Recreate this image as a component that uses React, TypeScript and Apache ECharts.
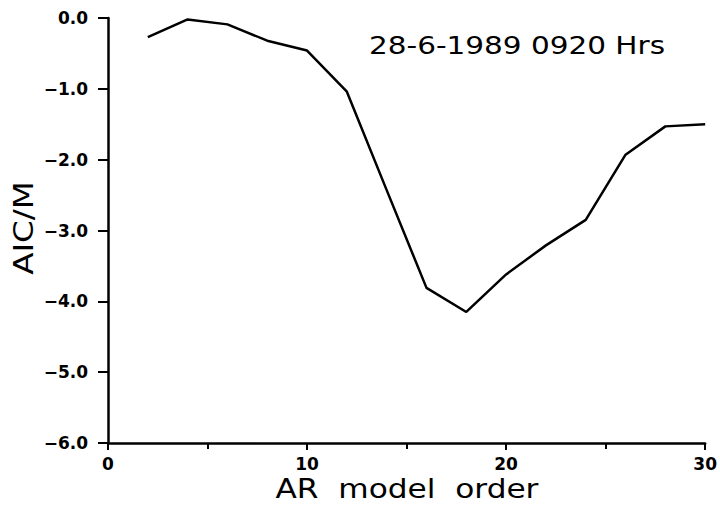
import React, { useEffect, useRef } from "react";
import * as echarts from "echarts";

const orders = [2, 4, 6, 8, 10, 12, 14, 16, 18, 20, 22, 24, 26, 28, 30];
const aicValues = [-0.27, -0.02, -0.09, -0.32, -0.46, -1.04, -2.43, -3.81, -4.15, -3.62, -3.21, -2.85, -1.93, -1.53, -1.5];
const titleText = "28-6-1989 0920 Hrs";
const xAxisTitle = "AR  model  order";
const yAxisTitle = "AIC/M";

const fmtY = (v: number) => (v < 0 ? "\u2212" : "") + Math.abs(v).toFixed(1);

export default function App() {
  const ref = useRef<HTMLDivElement>(null);
  useEffect(() => {
    if (!ref.current) return;
    const chart = echarts.init(ref.current, null, { renderer: "svg" });
    const black = "#000";
    chart.setOption({
      animation: false,
      backgroundColor: "#fff",
      grid: { left: 108, right: 13, top: 18, bottom: 65, containLabel: false },
      xAxis: {
        type: "value",
        min: 0,
        max: 30,
        interval: 10,
        axisLine: { show: true, onZero: false, lineStyle: { color: black, width: 2.5 } },
        axisTick: { show: true, inside: false, length: 7, lineStyle: { color: black, width: 2 } },
        minorTick: { show: true, splitNumber: 2, length: 6, lineStyle: { color: black, width: 2 } },
        splitLine: { show: false },
        axisLabel: {
          color: black,
          fontFamily: "DejaVu Sans",
          fontWeight: "bold",
          fontSize: 17,
          margin: 12,
        },
      },
      yAxis: {
        type: "value",
        min: -6,
        max: 0,
        interval: 1,
        axisLine: { show: true, onZero: false, lineStyle: { color: black, width: 2.5 } },
        axisTick: { show: true, inside: false, length: 10, lineStyle: { color: black, width: 2 } },
        splitLine: { show: false },
        axisLabel: {
          color: black,
          fontFamily: "DejaVu Sans",
          fontWeight: "bold",
          fontSize: 17,
          margin: 20,
          formatter: fmtY,
        },
      },
      series: [
        {
          type: "line",
          data: orders.map((o, i) => [o, aicValues[i]]),
          showSymbol: false,
          symbol: "none",
          lineStyle: { color: black, width: 2.5 },
        },
      ],
      graphic: [
        {
          type: "text",
          x: 369,
          y: 45,
          scaleX: 1.18,
          style: {
            text: titleText,
            fill: black,
            font: "25px 'DejaVu Sans'",
            align: "left",
            verticalAlign: "middle",
          },
        },
        {
          type: "text",
          x: 407,
          y: 489,
          scaleX: 1.2,
          style: {
            text: xAxisTitle,
            fill: black,
            font: "26px 'DejaVu Sans'",
            align: "center",
            verticalAlign: "middle",
          },
        },
        {
          type: "text",
          x: 24,
          y: 228,
          rotation: Math.PI / 2,
          scaleX: 1.25,
          style: {
            text: yAxisTitle,
            fill: black,
            font: "26px 'DejaVu Sans'",
            align: "center",
            verticalAlign: "middle",
          },
        },
      ],
    });
    return () => chart.dispose();
  }, []);
  return (
    <div
      ref={ref}
      style={{ position: "fixed", left: 0, top: 0, width: 720, height: 508, background: "#fff" }}
    />
  );
}
